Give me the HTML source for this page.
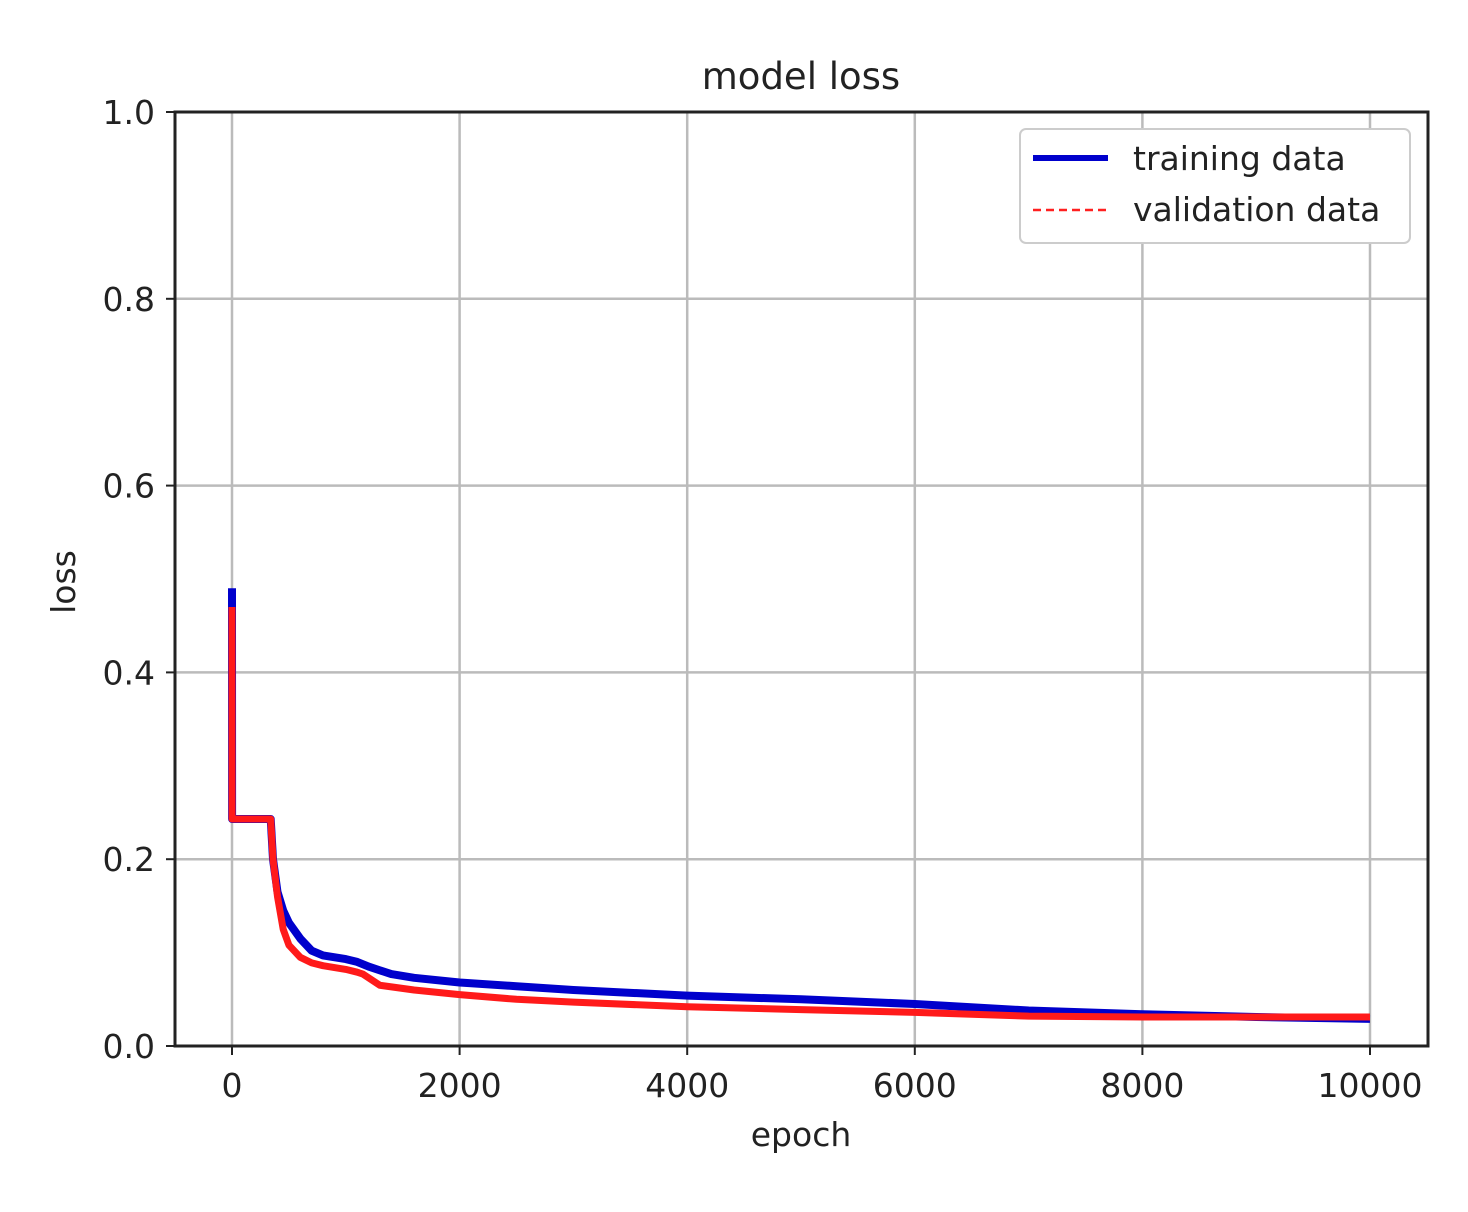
<!DOCTYPE html>
<html><head><meta charset="utf-8"><style>
body{margin:0;background:#fff}
svg text{font-family:"DejaVu Sans","Liberation Sans",sans-serif;fill:#222}
</style></head><body>
<svg id="chart" width="1468" height="1207">
<text x="801" y="89" font-size="37" text-anchor="middle">model loss</text>
<g id="grid"></g>
<g id="ticks"></g>
<g id="series"></g>
<rect x="175" y="112" width="1253" height="934" fill="none" stroke="#222" stroke-width="3"/>
<text x="801" y="1146" font-size="33" text-anchor="middle">epoch</text>
<text x="75" y="582" font-size="33" text-anchor="middle" transform="rotate(-90 75 582)">loss</text>
<g>
<rect x="1020" y="129" width="390" height="114" rx="6" fill="#fff" stroke="#ccc" stroke-width="2"/>
<line x1="1033" y1="158" x2="1108" y2="158" stroke="#0000cc" stroke-width="6"/>
<text x="1133" y="170" font-size="33">training data</text>
<line x1="1033" y1="210" x2="1108" y2="210" stroke="#ff2020" stroke-width="2.5" stroke-dasharray="8,5"/>
<text x="1133" y="221" font-size="33">validation data</text>
</g>
</svg>
<script>
const xTicks=[0,2000,4000,6000,8000,10000];
const yTicks=[0,0.2,0.4,0.6,0.8,1.0];
const yTickLabels=["0.0","0.2","0.4","0.6","0.8","1.0"];
const trainEpochs=[0,1,20,340,360,400,450,500,600,700,800,1000,1100,1200,1400,1600,2000,2500,3000,4000,5000,6000,7000,8000,9000,10000];
const trainLoss=[0.49,0.243,0.243,0.243,0.2,0.165,0.145,0.132,0.115,0.102,0.097,0.093,0.09,0.085,0.077,0.073,0.068,0.064,0.06,0.054,0.05,0.045,0.038,0.034,0.031,0.029];
const valEpochs=[0,1,20,340,360,400,450,500,600,700,800,1000,1100,1150,1300,1600,2000,2500,3000,4000,5000,6000,7000,8000,9000,10000];
const valLoss=[0.47,0.243,0.243,0.243,0.2,0.16,0.125,0.108,0.095,0.089,0.086,0.082,0.079,0.077,0.065,0.06,0.055,0.05,0.047,0.042,0.039,0.036,0.032,0.031,0.031,0.031];
const X=v=>232+v*(1370-232)/10000;
const Y=v=>1046-v*934;
const NS="http://www.w3.org/2000/svg";
const grid=document.getElementById('grid'),ticks=document.getElementById('ticks'),ser=document.getElementById('series');
function mk(tag,attrs,parent){const e=document.createElementNS(NS,tag);for(const k in attrs)e.setAttribute(k,attrs[k]);parent.appendChild(e);return e;}
xTicks.forEach(t=>{
 const g=mk('line',{x1:X(t),x2:X(t),y1:112,y2:1046,stroke:'#bbbbbb','stroke-width':2.5},grid);
 
 
 const tk=mk('line',{x1:X(t),x2:X(t),y1:1046,y2:1055,stroke:'#222','stroke-width':2},ticks);
 
 
 const tx=mk('text',{x:X(t),y:1097,'font-size':33,'text-anchor':'middle'},ticks);
 tx.textContent=t;
 
 
});
yTicks.forEach((t,i)=>{
 const g=mk('line',{x1:175,x2:1428,y1:Y(t),y2:Y(t),stroke:'#bbbbbb','stroke-width':2.5},grid);
 
 
 const tk=mk('line',{x1:166,x2:175,y1:Y(t),y2:Y(t),stroke:'#222','stroke-width':2},ticks);
 
 
 const tx=mk('text',{x:155,y:Y(t)+12,'font-size':33,'text-anchor':'end'},ticks);
 tx.textContent=yTickLabels[i];
 
 
});
function path(xs,ys){return xs.map((x,i)=>(i?'L':'M')+X(x).toFixed(1)+','+Y(ys[i]).toFixed(1)).join('');}
const tp=mk('path',{d:path(trainEpochs,trainLoss),fill:'none',stroke:'#0000cc','stroke-width':8,'stroke-linejoin':'round'},ser);


const vp=mk('path',{d:path(valEpochs,valLoss),fill:'none',stroke:'#ff1a1a','stroke-width':7,'stroke-linejoin':'round'},ser);


</script>
</body></html>
